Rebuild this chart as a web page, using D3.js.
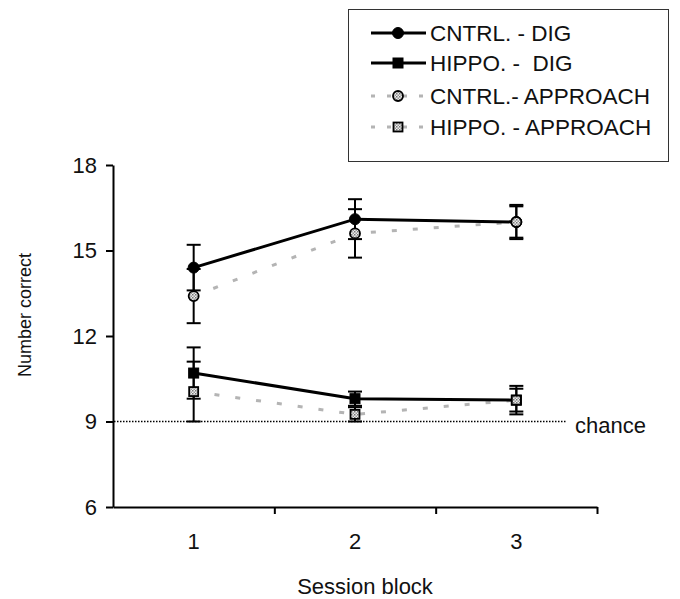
<!DOCTYPE html>
<meta charset="utf-8">
<head>
  <style>
    body { margin: 0; background: #fff; font-family: "Liberation Sans", Arial, sans-serif; }
    .axis text { font-family: "Liberation Sans", Arial, sans-serif; font-size: 22px; fill: #111; }
    .axis path, .axis line { stroke: #000; stroke-width: 2; }
  </style>
</head>
<body>
  <div class="chart"></div>
  <script src="https://cdnjs.cloudflare.com/ajax/libs/d3/7.8.5/d3.min.js"></script>
  <script>
    // session blocks and y ticks
    var blocks = [1, 2, 3];
    var yTicks = [6, 9, 12, 15, 18];
    var chance = 9;

    // means and error bars
    var cntrlDig = [14.4, 16.1, 16.0];
    var cntrlDigErr = [0.8, 0.7, 0.55];
    var hippoDig = [10.7, 9.8, 9.75];
    var hippoDigErr = [0.9, 0.25, 0.4];
    var cntrlApp = [13.4, 15.6, 16.0];
    var cntrlAppErr = [0.95, 0.85, 0.6];
    var hippoApp = [10.05, 9.25, 9.75];
    var hippoAppErr = [1.05, 0.25, 0.5];

    var seriesNames = ["CNTRL. - DIG", "HIPPO. -  DIG", "CNTRL.- APPROACH", "HIPPO. - APPROACH"];

    var series = [
      { name: seriesNames[0], vals: cntrlDig, err: cntrlDigErr, kind: "dig", shape: "circle" },
      { name: seriesNames[1], vals: hippoDig, err: hippoDigErr, kind: "dig", shape: "square" },
      { name: seriesNames[2], vals: cntrlApp, err: cntrlAppErr, kind: "app", shape: "circle" },
      { name: seriesNames[3], vals: hippoApp, err: hippoAppErr, kind: "app", shape: "square" }
    ];

    var W = 680, H = 599;
    var svg = d3.select(".chart").append("svg")
        .attr("width", W)
        .attr("height", H);

    // hatched grey fill for the approach markers
    var pat = svg.append("defs").append("pattern")
        .attr("id", "hatch")
        .attr("patternUnits", "userSpaceOnUse")
        .attr("width", 3).attr("height", 3);
    pat.append("rect").attr("width", 3).attr("height", 3).attr("fill", "#eee");
    pat.append("rect").attr("width", 1.5).attr("height", 1.5).attr("fill", "#777");
    pat.append("rect").attr("x", 1.5).attr("y", 1.5).attr("width", 1.5).attr("height", 1.5).attr("fill", "#999");

    var x = d3.scaleBand().domain(blocks).range([113, 597]);
    var xEdge = d3.scaleLinear().domain([0, 3]).range([113, 597]);
    var y = d3.scaleLinear().domain([6, 18]).range([507, 165]);
    var cx = function(i) { return x(blocks[i]) + x.bandwidth() / 2; };

    // y axis
    svg.append("g")
        .attr("class", "axis")
        .attr("transform", "translate(113,0)")
        .call(d3.axisLeft(y).tickValues(yTicks).tickSize(7).tickPadding(9).tickSizeOuter(0));

    // x axis: line and ticks at block boundaries
    svg.append("g")
        .attr("class", "axis")
        .attr("transform", "translate(0,507)")
        .call(d3.axisBottom(xEdge).tickValues([1, 2, 3]).tickFormat("").tickSize(7).tickSizeOuter(0));

    // x labels at block centres
    svg.append("g")
        .attr("class", "axis")
        .attr("transform", "translate(0,507)")
        .call(d3.axisBottom(x).tickSize(0).tickPadding(26))
        .call(function(g) { g.select(".domain").remove(); });

    // axis titles
    svg.append("text")
        .attr("transform", "translate(31,315) rotate(-90)")
        .attr("text-anchor", "middle")
        .style("font-size", "18px")
        .attr("fill", "#111")
        .text("Number correct");
    svg.append("text")
        .attr("x", 365).attr("y", 594)
        .attr("text-anchor", "middle")
        .style("font-size", "22px")
        .attr("fill", "#111")
        .text("Session block");

    // chance line
    svg.append("line")
        .attr("x1", 114).attr("x2", 566)
        .attr("y1", y(chance)).attr("y2", y(chance))
        .attr("stroke", "#000").attr("stroke-width", 1.3)
        .attr("stroke-dasharray", "1.5,1.5");
    svg.append("text")
        .attr("x", 575).attr("y", y(chance) + 11)
        .style("font-size", "22px")
        .attr("fill", "#111")
        .text("chance");

    function lineStyle(sel, kind) {
      if (kind === "dig") {
        sel.attr("stroke", "#000").attr("stroke-width", 3);
      } else {
        sel.attr("stroke", "#b4b4b4").attr("stroke-width", 3).attr("stroke-dasharray", "5,16");
      }
    }

    function marker(g, shape, kind, px, py) {
      if (shape === "circle") {
        g.append("circle").attr("cx", px).attr("cy", py)
            .attr("r", kind === "dig" ? 5.5 : 5)
            .attr("fill", kind === "dig" ? "#000" : "url(#hatch)")
            .attr("stroke", "#000").attr("stroke-width", kind === "dig" ? 1 : 1.8);
      } else {
        var s = kind === "dig" ? 10 : 9;
        g.append("rect").attr("x", px - s / 2).attr("y", py - s / 2)
            .attr("width", s).attr("height", s)
            .attr("fill", kind === "dig" ? "#000" : "url(#hatch)")
            .attr("stroke", "#000").attr("stroke-width", kind === "dig" ? 1 : 1.8);
      }
    }

    var line = d3.line()
        .x(function(d, i) { return cx(i); })
        .y(function(d) { return y(d); });

    // approach lines behind, dig lines on top
    var order = [2, 3, 0, 1];
    order.forEach(function(k) {
      var s = series[k];
      svg.append("path")
          .datum(s.vals)
          .attr("fill", "none")
          .attr("d", line)
          .call(lineStyle, s.kind);
    });

    // error bars and markers; dig first, approach markers drawn over
    [0, 1, 2, 3].forEach(function(k) {
      var s = series[k];
      var g = svg.append("g");
      s.vals.forEach(function(v, i) {
        var px = cx(i), e = s.err[i];
        g.append("line")
            .attr("x1", px).attr("x2", px)
            .attr("y1", y(v + e)).attr("y2", y(v - e))
            .attr("stroke", "#000").attr("stroke-width", 2);
        [v + e, v - e].forEach(function(c) {
          g.append("line")
              .attr("x1", px - 7).attr("x2", px + 7)
              .attr("y1", y(c)).attr("y2", y(c))
              .attr("stroke", "#000").attr("stroke-width", 2);
        });
        marker(g, s.shape, s.kind, px, y(v));
      });
    });

    // legend
    var lg = svg.append("g");
    lg.append("rect")
        .attr("x", 348.5).attr("y", 9.5)
        .attr("width", 320).attr("height", 152)
        .attr("fill", "#fff").attr("stroke", "#333").attr("stroke-width", 1);
    var rowY = [33, 63, 96, 127];
    series.forEach(function(s, k) {
      var ly = rowY[k];
      lg.append("line")
          .attr("x1", 371).attr("x2", 426)
          .attr("y1", ly).attr("y2", ly)
          .call(lineStyle, s.kind)
          .attr("stroke-dasharray", s.kind === "app" ? "4,12" : null);
      marker(lg, s.shape, s.kind, 398, ly);
      lg.append("text")
          .attr("x", 430).attr("y", ly + 8)
          .style("font-size", "22.5px")
          .style("white-space", "pre")
          .attr("fill", "#111")
          .text(s.name);
    });
  </script>
</body>
